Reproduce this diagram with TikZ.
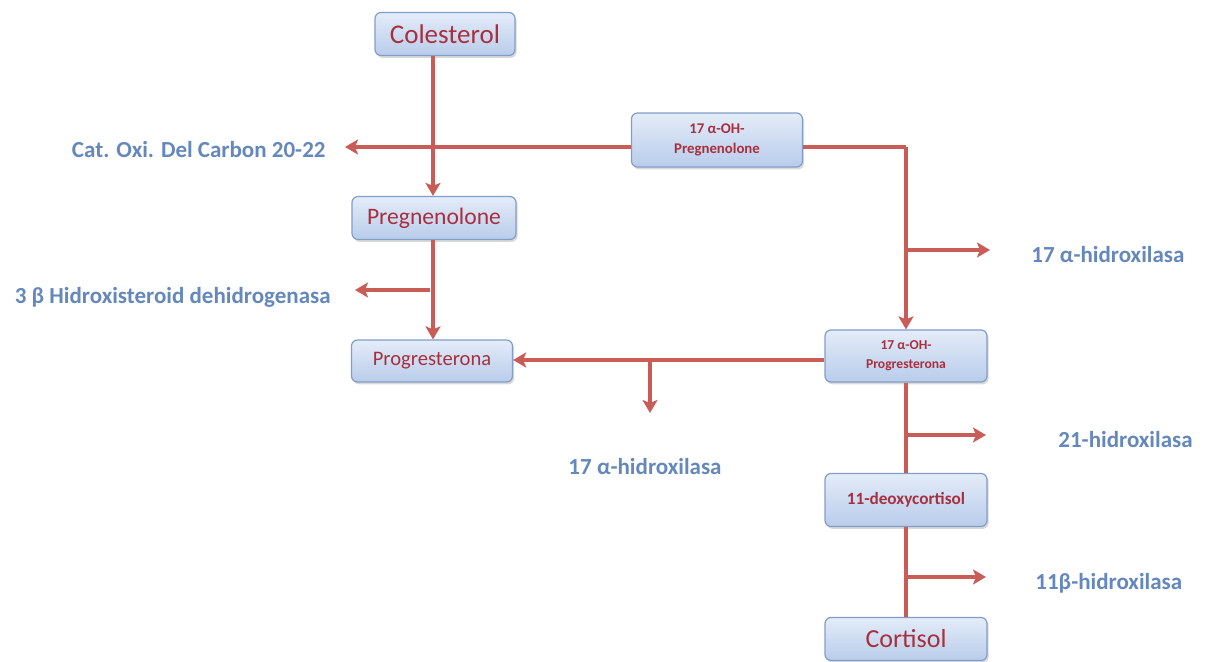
\documentclass[tikz,border=0pt]{standalone}
\usepackage{fontspec}
\setmainfont{Carlito}
\usetikzlibrary{arrows.meta,shadows}
\definecolor{boxtext}{RGB}{168,48,62}
\definecolor{linecol}{RGB}{201,92,86}
\definecolor{lbl}{RGB}{100,135,188}
\definecolor{boxtop}{RGB}{228,236,249}
\definecolor{boxbot}{RGB}{184,204,234}
\definecolor{boxline}{RGB}{130,158,200}
\tikzset{
  stepbox/.style={draw=boxline, line width=0.6pt, rounded corners=3pt,
    top color=boxtop, bottom color=boxbot, text=boxtext, align=center,
    inner sep=0pt,
    drop shadow={shadow xshift=0.8pt, shadow yshift=-1.2pt, opacity=0.3}},
  enz/.style={text=lbl, font=\bfseries\fontsize{11.5}{13}\selectfont, inner sep=0pt},
  conn/.style={draw=linecol, line width=1.6pt},
  arr/.style={conn, -{Stealth[length=6.5pt,width=7.5pt,inset=1.5pt]}},
}
\begin{document}
\begin{tikzpicture}[x=0.5pt,y=-0.5pt]
\useasboundingbox (0,0) rectangle (1206,662);
% boxes
\node[stepbox, minimum width=70pt, minimum height=21.5pt, font=\fontsize{13.5}{15}\selectfont] (col) at (445,34) {Colesterol};
\node[stepbox, minimum width=82pt, minimum height=21.5pt, font=\fontsize{11.8}{13}\selectfont] (preg) at (434,218) {Pregnenolone};
\node[stepbox, minimum width=80.5pt, minimum height=21pt, font=\fontsize{10.3}{12}\selectfont] (prog) at (432,361) {Progresterona};
\node[stepbox, minimum width=85.5pt, minimum height=27pt, font=\bfseries\fontsize{7.4}{10}\selectfont] (ohpreg) at (717,140) {17 α-OH-\\Pregnenolone};
\node[stepbox, minimum width=81pt, minimum height=26pt, font=\bfseries\fontsize{6.8}{9.5}\selectfont] (ohprog) at (906,356) {17 α-OH-\\Progresterona};
\node[stepbox, minimum width=81pt, minimum height=26.5pt, font=\bfseries\fontsize{8.6}{10}\selectfont] (deoxy) at (906,500) {11-deoxycortisol};
\node[stepbox, minimum width=81pt, minimum height=21.5pt, font=\fontsize{13}{15}\selectfont] (cort) at (906,639) {Cortisol};
% enzyme labels
\node[enz, anchor=east] (cat) at (326,150) {Cat. Oxi. Del Carbon 20-22};
\node[enz, anchor=east] (hsd) at (331,297) {3 β Hidroxisteroid dehidrogenasa};
\node[enz, anchor=west] (h17a) at (1031,255) {17 α-hidroxilasa};
\node[enz] (h17b) at (645,467) {17 α-hidroxilasa};
\node[enz, anchor=west] (h21) at (1058,440) {21-hidroxilasa};
\node[enz, anchor=west] (h11) at (1035,583) {11β-hidroxilasa};
% helper coordinates
\coordinate (xA) at (433,0);
\coordinate (yA) at (0,147);
\coordinate (xB) at (906,0);
\coordinate (yB) at (0,360);
\coordinate (catend) at (345,147);
\coordinate (corner) at (906,147);
\coordinate (b1s) at (430,290);
\coordinate (b1e) at (355,290);
\coordinate (b2s) at (906,250);
\coordinate (b2e) at (990,250);
\coordinate (b3s) at (650,360);
\coordinate (b3e) at (650,413);
\coordinate (b4s) at (906,435);
\coordinate (b4e) at (986,435);
\coordinate (b5s) at (906,577);
\coordinate (b5e) at (986,577);
% connectors
\draw[arr] (col.south -| xA) -- (preg.north -| xA);
\draw[arr] (ohpreg.west |- yA) -- (catend);
\draw[conn] (ohpreg.east |- yA) -- (corner);
\draw[arr] (corner) -- (ohprog.north);
\draw[arr] (b2s) -- (b2e);
\draw[arr] (preg.south -| xA) -- (prog.north -| xA);
\draw[arr] (b1s) -- (b1e);
\draw[arr] (ohprog.west |- yB) -- (prog.east |- yB);
\draw[arr] (b3s) -- (b3e);
\draw[conn] (ohprog.south) -- (deoxy.north);
\draw[arr] (b4s) -- (b4e);
\draw[conn] (deoxy.south) -- (cort.north);
\draw[arr] (b5s) -- (b5e);
\end{tikzpicture}
\end{document}
